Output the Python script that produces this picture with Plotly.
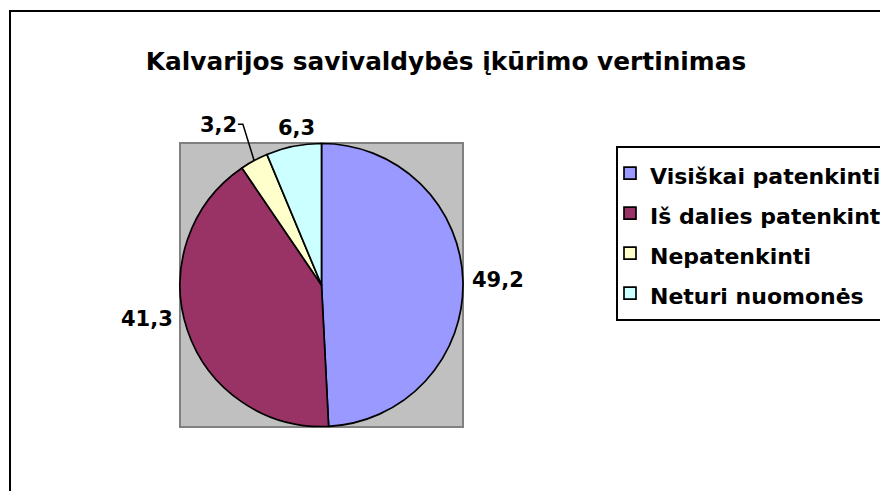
import math
import plotly.graph_objects as go

# ---- data ----
categories = ["Visiškai patenkinti", "Iš dalies patenkinti", "Nepatenkinti", "Neturi nuomonės"]
values = [49.2, 41.3, 3.2, 6.3]
colors = ["#9999FF", "#993366", "#FFFFCC", "#CCFFFF"]
title_text = "Kalvarijos savivaldybės įkūrimo vertinimas"

# ---- label placement style (distance factor from centre, angle nudge in degrees) ----
label_dist = [1.245, 1.255, 1.345, 1.125]
label_nudge = [-0.3, 7.5, -4.5, 2.4]
leader_line = [False, False, True, False]

# page body has an 8px margin; layout is specified in window pixels
OFF = 8
WIN_W, WIN_H = 888, 491
W, H = WIN_W, WIN_H
FONT = "DejaVu Sans"

def px(x):
    return (x - OFF) / W

def py(y):
    return 1 - (y - OFF) / H

# plot area (gray box) in window pixels
PA_L, PA_R, PA_T, PA_B = 180, 463, 143, 427
CX, CY = (PA_L + PA_R) / 2, (PA_T + PA_B) / 2
R = min(PA_R - PA_L, PA_B - PA_T) / 2

legend_labels = [f'<span style="font-size:22px">{c}</span>' for c in categories]

fig = go.Figure()
fig.add_trace(go.Pie(
    labels=legend_labels,
    values=values,
    sort=False,
    direction="clockwise",
    rotation=0,
    marker=dict(colors=colors, line=dict(color="black", width=1.7)),
    textinfo="none",
    domain=dict(x=[px(PA_L), px(PA_R)], y=[py(PA_B), py(PA_T)]),
    hoverinfo="skip",
    showlegend=True,
))

shapes = [
    dict(type="rect", xref="paper", yref="paper", layer="below",
         x0=px(PA_L), x1=px(PA_R), y0=py(PA_B), y1=py(PA_T),
         fillcolor="#C0C0C0", line=dict(color="#808080", width=2)),
    dict(type="rect", xref="paper", yref="paper", layer="above",
         x0=px(10), x1=px(WIN_W + 20), y0=py(WIN_H + 20), y1=py(11),
         fillcolor="rgba(0,0,0,0)", line=dict(color="black", width=2)),
]

annotations = []
total = sum(values)
cum = 0.0
LABEL_SIZE = 21
for v, k, nd, ll in zip(values, label_dist, label_nudge, leader_line):
    mid = (cum + v / 2) / total * 360.0
    cum += v
    a = math.radians(mid + nd)
    lx = CX + k * R * math.sin(a)
    ly = CY - k * R * math.cos(a)
    txt = f"{v:.1f}".replace(".", ",")
    annotations.append(dict(
        x=px(lx), y=py(ly), xref="paper", yref="paper",
        text=txt, showarrow=False, xanchor="center", yanchor="middle",
        font=dict(family=FONT, size=LABEL_SIZE, color="black", weight="bold"),
    ))
    if ll:
        am = math.radians(mid)
        ex = CX + R * math.sin(am)
        ey = CY - R * math.cos(am)
        half_w = len(txt) * 0.6 * LABEL_SIZE / 2
        sx = lx + half_w + 1
        sy = ly - 1
        shapes.append(dict(
            type="path", xref="paper", yref="paper", layer="above",
            path=f"M{px(sx)},{py(sy)} L{px(sx + 5)},{py(sy)} L{px(ex)},{py(ey)}",
            line=dict(color="black", width=1.5),
        ))

fig.update_layout(
    width=W, height=H,
    margin=dict(l=0, r=0, t=0, b=0, autoexpand=False),
    paper_bgcolor="white",
    plot_bgcolor="white",
    font=dict(family=FONT, color="black"),
    title=dict(text=title_text, x=px(446), y=py(61), xref="paper", yref="paper",
               xanchor="center", yanchor="middle",
               font=dict(family=FONT, size=24.8, color="black", weight="bold")),
    legend=dict(x=px(616), y=py(146), xanchor="left", yanchor="top",
                bgcolor="white", bordercolor="black", borderwidth=2,
                indentation=-8,
                font=dict(family=FONT, size=28.5, color="black", weight="bold"),
                traceorder="normal"),
    shapes=shapes,
    annotations=annotations,
)

fig.write_html("out.html")
